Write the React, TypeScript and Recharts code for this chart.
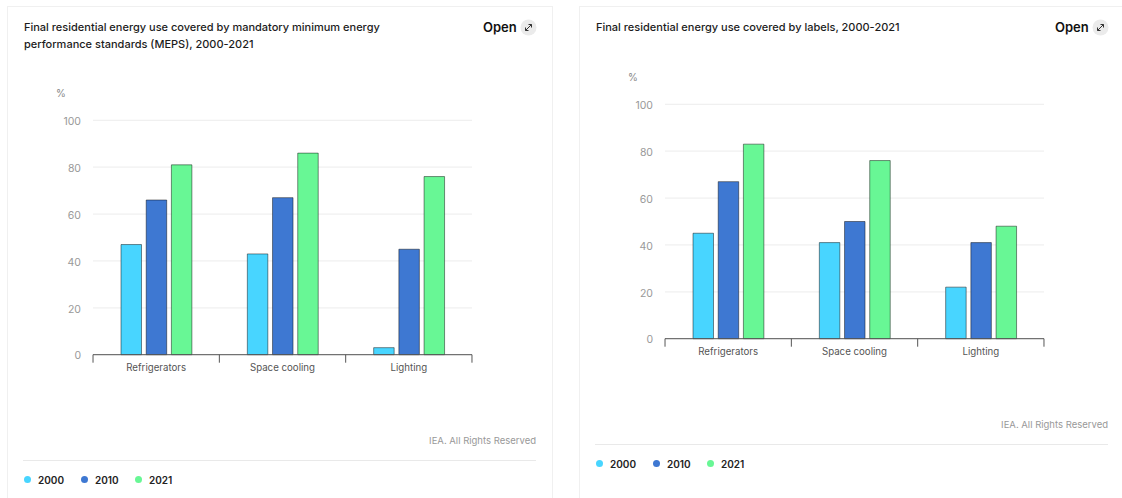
import React from 'react';
import { BarChart, Bar, XAxis, YAxis, CartesianGrid, Legend } from 'recharts';

const categories = ['Refrigerators', 'Space cooling', 'Lighting'];
const seriesNames = ['2000', '2010', '2021'];
const seriesColors = ['#48d5ff', '#3e78d2', '#68f795'];
const yTicks = [0, 20, 40, 60, 80, 100];

// MEPS coverage, %
const meps2000 = [47, 43, 3];
const meps2010 = [66, 67, 45];
const meps2021 = [81, 86, 76];

// Label coverage, %
const labels2000 = [45, 41, 22];
const labels2010 = [67, 50, 41];
const labels2021 = [83, 76, 48];

const buildRows = (a: number[], b: number[], c: number[]) =>
  categories.map((name, i) => ({ name, '2000': a[i], '2010': b[i], '2021': c[i] }));

const FONT = 'Inter, "Noto Sans", sans-serif';
const BAND = 126.3;

// Tick marks sit on the category boundaries, so the tick draws its own mark and label
const CategoryTick = ({ x, y, payload, index }: any) => (
  <g>
    <line x1={x - BAND / 2} x2={x - BAND / 2} y1={y} y2={y + 8} stroke="#555" />
    {index === categories.length - 1 && (
      <line x1={x + BAND / 2} x2={x + BAND / 2} y1={y} y2={y + 8} stroke="#555" />
    )}
    <text x={x} y={y + 16} textAnchor="middle" fontSize={9.7} fill="#555" fontFamily={FONT}>
      {payload.value}
    </text>
  </g>
);

const LegendRow = () => (
  <div style={{ position: 'relative', height: 20, fontFamily: FONT, fontSize: 10, fontWeight: 600, color: '#222' }}>
    {seriesNames.map((name, i) => (
      <span key={name} style={{ position: 'absolute', left: [0, 57, 111][i], top: 3, lineHeight: '14px', whiteSpace: 'nowrap' }}>
        <span
          style={{
            display: 'inline-block',
            width: 7,
            height: 7,
            borderRadius: '50%',
            background: seriesColors[i],
            marginRight: 7,
            marginBottom: 1,
          }}
        />
        {name}
      </span>
    ))}
  </div>
);

const OpenLink = ({ left }: { left: number }) => (
  <>
    <div style={{ position: 'absolute', left, top: 18, fontSize: 13, fontWeight: 600, color: '#111', lineHeight: '18px' }}>
      Open
    </div>
    <svg style={{ position: 'absolute', left: left + 37, top: 19 }} width={17} height={17}>
      <circle cx={8.5} cy={8.5} r={8} fill="#ebebeb" />
      <path d="M5.5 11.5 L11.5 5.5 M8.5 5.5 H11.5 V8.5 M5.5 8.5 V11.5 H8.5" stroke="#333" strokeWidth={1} fill="none" />
    </svg>
  </>
);

type PanelProps = {
  title: string[];
  rows: ReturnType<typeof buildRows>;
  dx: number;
  dy: number;
  cardWidth: number;
};

const ChartPanel = ({ title, rows, dx, dy, cardWidth }: PanelProps) => {
  const plotTop = 120.3 + dy;
  const plotBottom = 354.7 + dy;
  const chartHeight = 498;
  const legendHeight = 20;
  const axisHeight = 30;

  return (
    <div style={{ position: 'absolute', left: dx, top: 0, width: 552, height: 498, fontFamily: FONT }}>
      {/* card outline */}
      <div
        style={{
          position: 'absolute',
          left: 7,
          top: 6,
          width: cardWidth,
          height: 500,
          border: '1px solid #f0f0f0',
          boxSizing: 'border-box',
        }}
      />
      <div style={{ position: 'absolute', left: 24, top: 19, fontSize: 11, fontWeight: 500, lineHeight: '17px', color: '#1c1c1c', whiteSpace: 'nowrap' }}>
        {title.map((line) => (
          <div key={line}>{line}</div>
        ))}
      </div>
      <OpenLink left={483} />

      <div style={{ position: 'absolute', left: 56, top: 87 + dy, fontSize: 10, color: '#888' }}>%</div>

      <div style={{ position: 'absolute', left: 0, top: 0 }}>
        <BarChart
          width={552}
          height={chartHeight}
          data={rows}
          barSize={20.5}
          barGap={4.7}
          margin={{ top: plotTop, right: 80, left: 53, bottom: chartHeight - plotBottom - axisHeight - legendHeight }}
        >
          <CartesianGrid vertical={false} stroke="#f0f0f0" strokeWidth={1.2} />
          <XAxis
            dataKey="name"
            height={axisHeight}
            axisLine={{ stroke: '#555' }}
            tickLine={false}
            tick={<CategoryTick />}
            tickSize={0}
            tickMargin={0}
            interval={0}
          />
          <YAxis
            width={40}
            domain={[0, 100]}
            ticks={yTicks}
            axisLine={false}
            tickLine={false}
            tickMargin={6}
            tick={{ fontSize: 10.5, fill: '#999', fontFamily: FONT, dy: 1 }}
          />
          {seriesNames.map((name, i) => (
            <Bar
              key={name}
              dataKey={name}
              fill={seriesColors[i]}
              stroke="#000"
              strokeOpacity={0.45}
              strokeWidth={1}
              isAnimationActive={false}
            />
          ))}
          <Legend
            content={<LegendRow />}
            wrapperStyle={{ left: 24, width: 200, height: legendHeight, bottom: 498 - 490 - dy }}
          />
        </BarChart>
      </div>

      <div style={{ position: 'absolute', right: 16, top: 434 + dy, fontSize: 9.5, color: '#999', lineHeight: '14px' }}>
        IEA. All Rights Reserved
      </div>
      <div style={{ position: 'absolute', left: 23, top: 460 + dy, width: 513, height: 1, background: '#e9e9e9' }} />
    </div>
  );
};

export default function App() {
  return (
    <div style={{ position: 'absolute', left: 0, top: 0, width: 1122, height: 498, overflow: 'hidden', background: '#fff' }}>
      <ChartPanel
        title={['Final residential energy use covered by mandatory minimum energy', 'performance standards (MEPS), 2000-2021']}
        rows={buildRows(meps2000, meps2010, meps2021)}
        dx={0}
        dy={0}
        cardWidth={546}
      />
      <ChartPanel
        title={['Final residential energy use covered by labels, 2000-2021']}
        rows={buildRows(labels2000, labels2010, labels2021)}
        dx={572}
        dy={-16}
        cardWidth={600}
      />
    </div>
  );
}
